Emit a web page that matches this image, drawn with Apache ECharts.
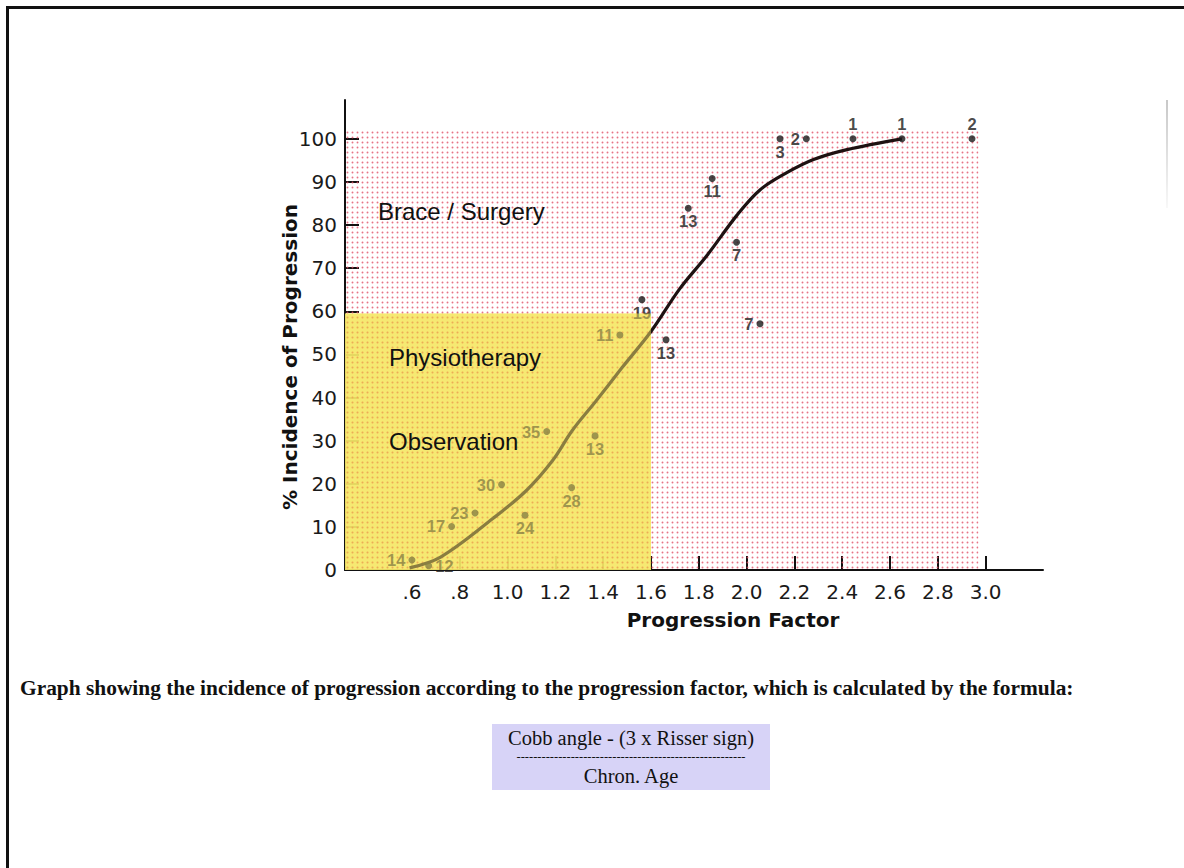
<!DOCTYPE html>
<html><head><meta charset="utf-8">
<script src="https://cdn.jsdelivr.net/npm/echarts@6.0.0/dist/echarts.min.js"></script>
<style>html,body{margin:0;padding:0;background:#fff}#c{width:1184px;height:868px}</style>
</head><body><div id="c"></div>
<script>
// ---------- data ----------
const xTickVals = [0.6, 0.8, 1.0, 1.2, 1.4, 1.6, 1.8, 2.0, 2.2, 2.4, 2.6, 2.8, 3.0];
const xTickLabels = ['.6', '.8', '1.0', '1.2', '1.4', '1.6', '1.8', '2.0', '2.2', '2.4', '2.6', '2.8', '3.0'];
const yTickVals = [0, 10, 20, 30, 40, 50, 60, 70, 80, 90, 100];

// fitted curve
const curveX = [0.59, 0.72, 0.94, 1.08, 1.19, 1.27, 1.37, 1.48, 1.60, 1.72, 1.835, 1.96, 2.057, 2.17, 2.28, 2.42, 2.65];
const curveY = [0.5, 3, 12, 18.5, 25.5, 32.3, 39.2, 47, 55.3, 65.2, 73, 82.3, 88.2, 92.2, 95.2, 97.5, 100];

// observed groups: progression factor, % incidence, number of patients
const ptX = [1.562, 1.663, 1.756, 1.856, 1.958, 2.056, 2.14, 2.25, 2.445, 2.65, 2.943,
             0.60, 0.67, 0.766, 0.864, 0.975, 1.073, 1.164, 1.268, 1.366, 1.47];
const ptY = [62.7, 53.4, 83.9, 90.8, 76.0, 57.1, 100, 100, 100, 100, 100,
             2.3, 1.0, 10.1, 13.2, 19.8, 12.7, 32.1, 19.1, 31.1, 54.5];
const ptCount = ['19', '13', '13', '11', '7', '7', '3', '2', '1', '1', '2',
                 '14', '12', '17', '23', '30', '24', '35', '28', '13', '11'];
// label placement (style only)
const ptLabelPos = ['bottom', 'bottom', 'bottom', 'bottom', 'bottom', 'left', 'bottom', 'left', 'top', 'top', 'top',
                    'left', 'right', 'left', 'left', 'left', 'bottom', 'left', 'bottom', 'bottom', 'left'];

// treatment zones
const zoneNames = ['Brace / Surgery', 'Physiotherapy'];
const zoneX0 = [0.32, 0.32];
const zoneX1 = [2.97, 1.60];
const zoneY0 = [0, 0];
const zoneY1 = [102, 59.5];

// ---------- helpers ----------
function dotPattern(bg, dot, r, size) {
  const c = document.createElement('canvas');
  c.width = size; c.height = size;
  const g = c.getContext('2d');
  if (bg) { g.fillStyle = bg; g.fillRect(0, 0, size, size); }
  g.fillStyle = dot;
  g.beginPath(); g.arc(size / 2, size / 2, r, 0, Math.PI * 2); g.fill();
  return { image: c, repeat: 'repeat', imageWidth: size, imageHeight: size };
}
const pinkPattern = dotPattern(null, 'rgba(225,75,100,0.78)', 0.95, 5);
const yellowPattern = dotPattern('rgba(246,230,95,0.86)', 'rgba(226,95,55,0.85)', 1.0, 5);
const yellowVeil = 'rgba(246,232,110,0.5)';

function zoneSeries(i, fill, z) {
  return {
    type: 'custom', z: z, silent: true,
    data: [[zoneX0[i], zoneY0[i], zoneX1[i], zoneY1[i]]],
    encode: { x: [0, 2], y: [1, 3] },
    renderItem: function (params, api) {
      const p0 = api.coord([api.value(0), api.value(1)]);
      const p1 = api.coord([api.value(2), api.value(3)]);
      return { type: 'rect', shape: { x: p0[0], y: p1[1], width: p1[0] - p0[0], height: p0[1] - p1[1] }, style: { fill: fill } };
    }
  };
}

const tickFont = 'DejaVu Sans';
const chart = echarts.init(document.getElementById('c'), null, { renderer: 'svg', width: 1184, height: 868 });

function txt(text, x, y, font, align, extra) {
  return Object.assign({
    type: 'text', z: 100, x: x, y: y,
    style: { text: text, font: font, fill: '#111', align: align || 'left', textAlign: align || 'left', verticalAlign: 'middle', textVerticalAlign: 'middle' }
  }, extra || {});
}

const option = {
  backgroundColor: '#fff',
  animation: false,
  grid: { left: 345, top: 100, width: 698, height: 470, containLabel: false },
  xAxis: {
    type: 'value', min: 0.32, max: 3.24,
    axisLine: { show: true, lineStyle: { color: '#111', width: 2 } },
    axisTick: { show: true, inside: true, length: 14, customValues: xTickVals, lineStyle: { color: '#111', width: 2 } },
    axisLabel: {
      customValues: xTickVals, margin: 12, fontSize: 20, fontFamily: tickFont, color: '#1a1a1a',
      formatter: function (v) { const i = xTickVals.findIndex(t => Math.abs(t - v) < 1e-6); return i >= 0 ? xTickLabels[i] : ''; }
    },
    splitLine: { show: false }
  },
  yAxis: {
    type: 'value', min: 0, max: 109,
    axisLine: { show: true, lineStyle: { color: '#111', width: 2 } },
    axisTick: { show: true, inside: true, length: 14, customValues: yTickVals, lineStyle: { color: '#111', width: 2 } },
    axisLabel: { customValues: yTickVals, margin: 8, fontSize: 20, fontFamily: tickFont, color: '#1a1a1a' },
    splitLine: { show: false }
  },
  series: [
    zoneSeries(0, pinkPattern, 1),
    zoneSeries(1, yellowPattern, 2),
    {
      type: 'line', z: 3, smooth: 0.35, symbol: 'none',
      lineStyle: { color: '#1e1212', width: 3.2 },
      data: curveX.map((x, i) => [x, curveY[i]])
    },
    {
      type: 'scatter', z: 4, symbol: 'circle', symbolSize: 7,
      itemStyle: { color: '#1a1a1a' },
      data: ptX.map((x, i) => ({
        value: [x, ptY[i]],
        label: {
          show: true, formatter: ptCount[i], position: ptLabelPos[i], distance: ptLabelPos[i] === 'bottom' ? 1 : 3,
          fontFamily: 'Liberation Sans', fontWeight: 'bold', fontSize: 16.5, color: '#1a1a1a'
        }
      }))
    },
    zoneSeries(1, yellowVeil, 6)
  ],
  graphic: [
    { type: 'rect', z: 100, shape: { x: 6, y: 6, width: 1178, height: 3 }, style: { fill: '#111' } },
    { type: 'rect', z: 100, shape: { x: 6, y: 6, width: 3, height: 862 }, style: { fill: '#111' } },
    { type: 'rect', z: 100, shape: { x: 1166, y: 100, width: 2, height: 108 },
      style: { fill: { type: 'linear', x: 0, y: 0, x2: 0, y2: 1, colorStops: [{ offset: 0, color: '#c8c8c8' }, { offset: 1, color: '#f8f8f8' }] } } },
    txt('% Incidence of Progression', 290, 357, 'bold 20px "DejaVu Sans"', 'center', { rotation: Math.PI / 2 }),
    txt('Progression Factor', 733, 620, 'bold 20px "DejaVu Sans"', 'center'),
    txt(zoneNames[0], 378, 211, '24px "Liberation Sans"', 'left'),
    txt(zoneNames[1], 389, 357, '24px "Liberation Sans"', 'left'),
    txt('Observation', 389, 441, '24px "Liberation Sans"', 'left'),
    txt('Graph showing the incidence of progression according to the progression factor, which is calculated by the formula:', 20, 688, 'bold 21.4px "Liberation Serif"', 'left'),
    { type: 'rect', z: 99, shape: { x: 492, y: 724, width: 278, height: 66 }, style: { fill: '#d7d3f7' } },
    txt('Cobb angle - (3 x Risser sign)', 631, 738, '20.5px "Liberation Serif"', 'center'),
    txt('-------------------------------------------------------', 631, 757, '12.5px "Liberation Serif"', 'center'),
    txt('Chron. Age', 631, 776, '20.5px "Liberation Serif"', 'center')
  ]
};
chart.setOption(option);
</script>
</body></html>
